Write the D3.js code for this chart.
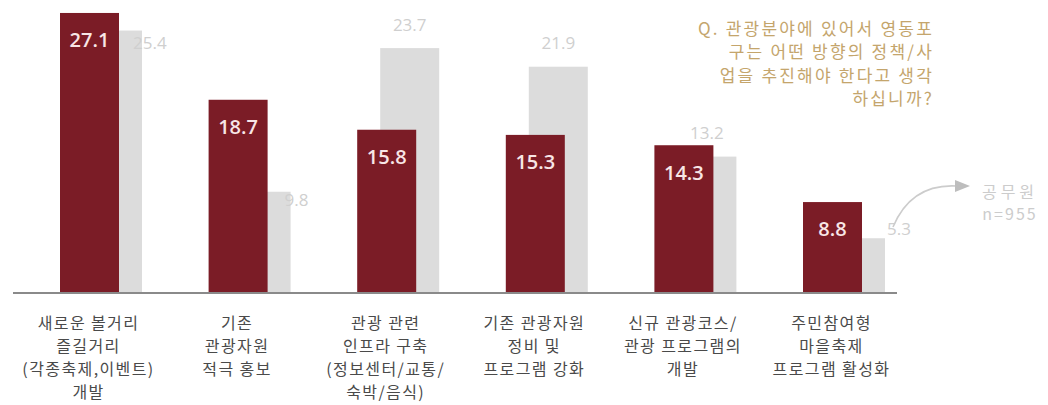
<!DOCTYPE html>
<html>
<head>
<meta charset="utf-8">
<script src="https://cdn.jsdelivr.net/npm/d3@7"></script>
<style>
  html, body { margin: 0; padding: 0; background: #fff; }
  svg { display: block; }
</style>
</head>
<body>
<svg id="chart" width="1048" height="405"></svg>
<script>
// Survey categories (multi-line labels)
const categories = [
  ["새로운 볼거리", "즐길거리", "(각종축제,이벤트)", "개발"],
  ["기존", "관광자원", "적극 홍보"],
  ["관광 관련", "인프라 구축", "(정보센터/교통/", "숙박/음식)"],
  ["기존 관광자원", "정비 및", "프로그램 강화"],
  ["신규 관광코스/", "관광 프로그램의", "개발"],
  ["주민참여형", "마을축제", "프로그램 활성화"]
];
const residentValues = [27.1, 18.7, 15.8, 15.3, 14.3, 8.8];
const officialValues = [25.4, 9.8, 23.7, 21.9, 13.2, 5.3];
const questionLines = [
  "Q. 관광분야에 있어서 영동포",
  "구는 어떤 방향의 정책/사",
  "업을 추진해야 한다고 생각",
  "하십니까?"
];
const officialNote = ["공무원", "n=955"];

const svg = d3.select("#chart");
const baseY = 293;
const ids = categories.map((_, i) => i);

const x = d3.scaleBand().domain(ids).range([60, 951.6]).padding(0);
const y = d3.scaleLinear().domain([0, 30]).range([baseY, baseY - 310]);

const barW = 59;
const greyOffset = 23;
const font = "'Noto Sans CJK KR', 'Noto Sans', sans-serif";
const numFont = "'Open Sans', 'Noto Sans', sans-serif";

// Grey (officials) bars sit behind and to the right of the red bars
svg.append("g").selectAll("rect").data(ids).join("rect")
  .attr("x", i => x(i) + greyOffset)
  .attr("y", i => y(officialValues[i]))
  .attr("width", barW)
  .attr("height", i => baseY - y(officialValues[i]))
  .attr("fill", "#dcdcdc");

svg.append("g").selectAll("rect").data(ids).join("rect")
  .attr("x", i => x(i))
  .attr("y", i => y(residentValues[i]))
  .attr("width", barW)
  .attr("height", i => baseY - y(residentValues[i]))
  .attr("fill", "#7b1c26");

// Baseline
svg.append("line")
  .attr("x1", 13).attr("x2", 897)
  .attr("y1", baseY).attr("y2", baseY)
  .attr("stroke", "#8a8a8a").attr("stroke-width", 2);

// Values inside red bars
svg.append("g").selectAll("text").data(ids).join("text")
  .attr("x", i => x(i) + barW / 2)
  .attr("y", i => y(residentValues[i]) + 29)
  .attr("text-anchor", "middle")
  .attr("dominant-baseline", "middle")
  .attr("font-family", numFont)
  .attr("font-size", 20)
  .attr("font-weight", 600)
  .attr("fill", "#f8e6e6")
  .text(i => residentValues[i].toFixed(1));

// Grey values: some sit beside the bar, the rest centred above it
const sideNudge = { 0: [-9, 14], 1: [-6, 10], 5: [2, -8] };
const isSide = i => sideNudge[i] !== undefined;
svg.append("g").selectAll("text").data(ids).join("text")
  .attr("x", i => isSide(i)
    ? x(i) + greyOffset + barW + sideNudge[i][0]
    : x(i) + greyOffset + barW / 2)
  .attr("y", i => isSide(i)
    ? y(officialValues[i]) + sideNudge[i][1]
    : y(officialValues[i]) - 22)
  .attr("text-anchor", i => isSide(i) ? "start" : "middle")
  .attr("dominant-baseline", "middle")
  .attr("font-family", numFont)
  .attr("font-size", 17)
  .attr("fill", "#cfcfcf")
  .text(i => officialValues[i].toFixed(1));

// Category labels
const lab = svg.append("g").selectAll("text").data(ids).join("text")
  .attr("text-anchor", "middle")
  .attr("font-family", font)
  .attr("font-size", 16)
  .attr("letter-spacing", 1.4)
  .attr("fill", "#4a4a4a");
lab.each(function (i) {
  const t = d3.select(this);
  categories[i].forEach((line, k) => {
    t.append("tspan")
      .attr("x", x(i) + barW / 2 - 1)
      .attr("y", 329 + k * 23)
      .text(line);
  });
});

// Question annotation
svg.append("g").selectAll("text").data(questionLines).join("text")
  .attr("x", 934)
  .attr("y", (d, k) => 35 + k * 23.4)
  .attr("text-anchor", "end")
  .attr("font-family", font)
  .attr("font-size", 17)
  .attr("letter-spacing", 2.2)
  .attr("fill", "#c4a56c")
  .text(d => d);

// Arrow pointing to the officials note
svg.append("path")
  .attr("d", "M893,227 C903,203 922,184 957,186")
  .attr("fill", "none")
  .attr("stroke", "#cccccc")
  .attr("stroke-width", 1.6);
svg.append("path")
  .attr("d", "M955,180 L970,186 L955,192 Z")
  .attr("fill", "#bdbdbd");

svg.append("g").selectAll("text").data(officialNote).join("text")
  .attr("x", 1010)
  .attr("y", (d, k) => 198 + k * 22)
  .attr("text-anchor", "middle")
  .attr("font-family", font)
  .attr("font-size", 16)
  .attr("letter-spacing", (d, k) => k === 0 ? 4 : 2)
  .attr("fill", "#cccccc")
  .text(d => d);
</script>
</body>
</html>
